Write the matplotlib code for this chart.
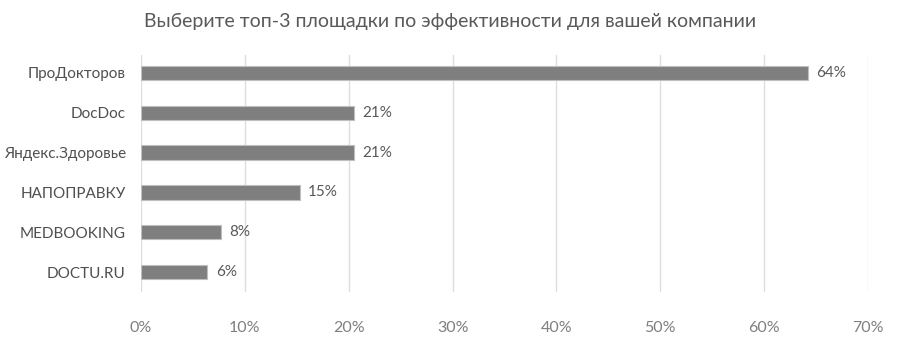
import matplotlib.pyplot as plt

# chart data
platforms = ['ПроДокторов', 'DocDoc', 'Яндекс.Здоровье', 'НАПОПРАВКУ', 'MEDBOOKING', 'DOCTU.RU']
shares = [64.2, 20.5, 20.5, 15.3, 7.7, 6.4]
share_labels = ['64%', '21%', '21%', '15%', '8%', '6%']
ticks = [0, 10, 20, 30, 40, 50, 60, 70]

plt.rcParams['font.family'] = ['Lato', 'DejaVu Sans']

fig = plt.figure(figsize=(9, 3.53), dpi=100)
ax = fig.add_axes([0.1567, 0.173, 0.8077, 0.671])

y = range(len(platforms))
ax.barh(y, shares, height=0.36, color='#7f7f7f', edgecolor='#bfbfbf', linewidth=0.8, zorder=3)

for i, (v, lab) in enumerate(zip(shares, share_labels)):
    ax.text(v + 0.8, i, lab, va='center', ha='left', fontsize=11, color='#595959')

ax.set_xlim(0, 70)
ax.set_ylim(5.5, -0.45)
ax.set_xticks(ticks)
ax.set_xticklabels([f'{t}%' for t in ticks])
ax.set_yticks(list(y))
ax.set_yticklabels(platforms)
ax.tick_params(axis='x', length=0, pad=21, labelsize=11.5, labelcolor='#7f7f7f')
ax.tick_params(axis='y', length=0, pad=11, labelsize=11, labelcolor='#505050')
ax.grid(axis='x', color='#dedede', linewidth=1, zorder=0)
for s in ax.spines.values():
    s.set_visible(False)

fig.text(0.5, 0.94, 'Выберите топ-3 площадки по эффективности для вашей компании',
         ha='center', va='center', fontsize=14, color='#595959')

fig.savefig('out.png', dpi=100)
